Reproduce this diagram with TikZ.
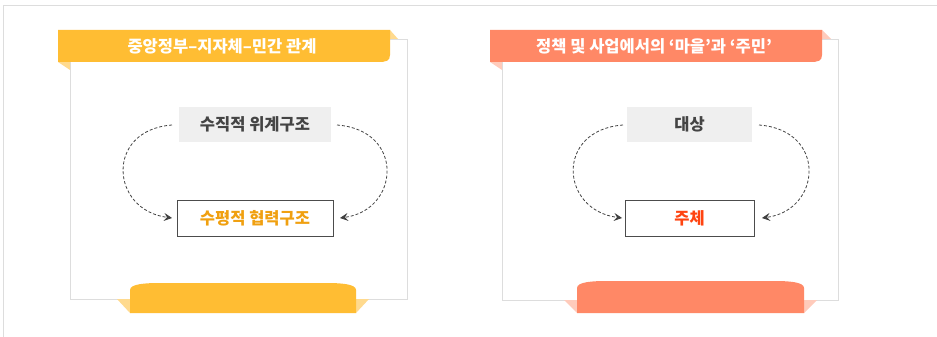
\documentclass[tikz,border=0pt]{standalone}
\usepackage{fontspec}
\setmainfont{Noto Sans CJK KR}
\usetikzlibrary{arrows.meta}
\definecolor{frameg}{HTML}{DDDDDD}
\definecolor{yel}{HTML}{FFBD33}
\definecolor{yelf}{HTML}{FFDA8E}
\definecolor{ora}{HTML}{FF8866}
\definecolor{oraf}{HTML}{FFCBBB}
\definecolor{boxg}{HTML}{EFEFEF}
\definecolor{txtg}{HTML}{444444}
\definecolor{txtor}{HTML}{F0A010}
\definecolor{txtred}{HTML}{FF4411}
\tikzset{
  panel/.style={draw=frameg, line width=0.8pt},
  title/.style={text=white, font=\bfseries\fontsize{16.5}{18}\selectfont, inner sep=0pt},
  graybox/.style={fill=boxg, text=txtg, font=\bfseries\fontsize{16.5}{18}\selectfont, inner sep=0pt},
  whitebox/.style={draw=black!70, line width=0.9pt, fill=white, font=\bfseries\fontsize{16.5}{18}\selectfont, inner sep=0pt},
  flow/.style={dash pattern=on 3pt off 2pt, draw=black!75, line width=0.8pt, -{Stealth[length=8pt,width=8pt,inset=3pt]}}
}
\begin{document}
\begin{tikzpicture}[x=1pt,y=-1pt]
\useasboundingbox (0,0) rectangle (937,337);
\fill[white] (0,0) rectangle (937,337);
% outer frame
\draw[frameg, line width=0.8pt] (937,5) -- (3,5) -- (3,337);

% ===== left panel =====
\draw[panel] (70,39) rectangle (407,299);
\fill[yelf] (390,30) -- (398,39) -- (390,39) -- cycle;
\fill[yelf] (58,62) -- (70,62) -- (70,70) -- cycle;
\fill[yel] (58,30) -- (390,30) -- (390,55) .. controls (390,61) and (386,62) .. (378,62) -- (58,62) -- cycle;
\node[title] (t1) at (222,46) {중앙정부–지자체–민간 관계};
\fill[yelf] (117,299) -- (130,299) -- (130,313) -- cycle;
\fill[yelf] (369,299) -- (356,299) -- (356,313) -- cycle;
\fill[yel] (130,313) -- (130,290) .. controls (130,284) and (145,283) .. (160,283) -- (326,283) .. controls (341,283) and (356,284) .. (356,290) -- (356,313) -- cycle;

\node[graybox, minimum width=152pt, minimum height=35pt] (v1) at (255,124.5) {수직적 위계구조};
\node[whitebox, minimum width=156pt, minimum height=36pt, text=txtor] (h1) at (255,218) {수평적 협력구조};
\draw[flow] (172,125) .. controls (105,130) and (110,210) .. (172,218);
\draw[flow] (337,125) .. controls (405,130) and (400,210) .. (340,218);

% ===== right panel =====
\draw[panel] (502,39) rectangle (838,300);
\fill[oraf] (822,30) -- (831,39) -- (822,39) -- cycle;
\fill[oraf] (490,62) -- (502,62) -- (502,70) -- cycle;
\fill[ora] (490,30) -- (822,30) -- (822,55) .. controls (822,61) and (818,62) .. (810,62) -- (490,62) -- cycle;
\node[title] (t2) at (654,46) {정책 및 사업에서의 ‘마을’과 ‘주민’};
\fill[oraf] (564,300) -- (577,300) -- (577,313) -- cycle;
\fill[oraf] (817,300) -- (804,300) -- (804,313) -- cycle;
\fill[ora] (577,313) -- (577,288) .. controls (577,282) and (592,281) .. (607,281) -- (774,281) .. controls (789,281) and (804,282) .. (804,288) -- (804,313) -- cycle;

\node[graybox, minimum width=125pt, minimum height=35pt] (v2) at (689.5,124.5) {대상};
\node[whitebox, minimum width=129pt, minimum height=36pt, text=txtred] (h2) at (689.5,218) {주체};
\draw[flow] (623,125) .. controls (555,130) and (560,210) .. (622,218);
\draw[flow] (759,125) .. controls (827,130) and (822,210) .. (762,218);
\end{tikzpicture}
\end{document}
